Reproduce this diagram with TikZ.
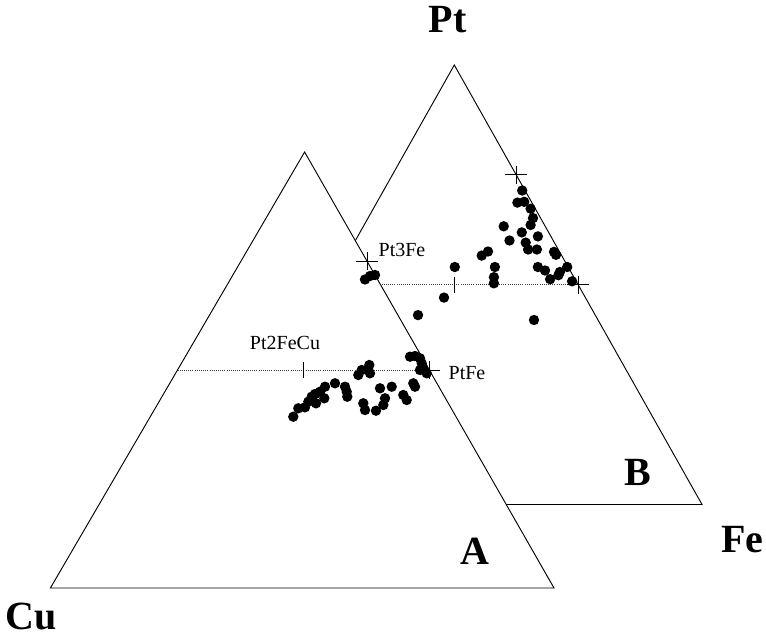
\documentclass[tikz,border=0pt]{standalone}
\usepackage{fontspec}
\setmainfont{Liberation Serif}
\usetikzlibrary{calc}
\begin{document}
\begin{tikzpicture}[x=0.75pt,y=-0.75pt,
  edge/.style={line width=0.7pt, line join=miter, fill=white},
  tie/.style={line width=0.6pt, densely dotted, black!75},
  tickline/.style={line width=0.6pt},
  corner/.style={font=\bfseries\fontsize{30}{30}\selectfont, inner sep=0pt},
  phase/.style={font=\fontsize{15}{15}\selectfont, inner sep=0pt},
  cross/.pic={\draw[tickline] (-11,0) -- (11,0) (0,-9) -- (0,9);},
  vtick/.pic={\draw[tickline] (0,-8) -- (0,8);}]
\useasboundingbox (0,0) rectangle (766,638);

% ---------- triangle B (behind) ----------
\coordinate (Bt) at (454.3,65);
\coordinate (Br) at (702,504.5);
\coordinate (Bl) at (206.6,504.5);
\draw[edge] (Bt) -- (Br) -- (Bl) -- cycle;
\coordinate (BmL) at ($(Bt)!0.5!(Bl)$);
\coordinate (BmR) at ($(Bt)!0.5!(Br)$);
\coordinate (B3) at ($(Br)!0.75!(Bt)$);
\coordinate (B2) at ($(BmL)!0.5!(BmR)$);
\draw[tie] (BmL) -- (BmR);
\pic at (B3) {cross};
\pic at (BmR) {cross};
\pic at (B2) {vtick};
\foreach \p in {(522.2,190.5),(517.4,202.6),(524.2,201.8),(530.6,208.7),(533,218.1),
  (503.7,226.3),(530.6,225),(521.8,232.4),(537.9,236.4),(509.5,240.5),(525.7,242.6),
  (528.1,249.5),(536.9,249.5),(554,251.9),(556,254.8),(481.7,255.6),(488,251.5),
  (454.8,267),(494.9,267),(537.9,267),(545,270.5),(559.9,272),(567.2,267),
  (558.4,275.2),(550.1,279.2),(572.1,281.3),(493.9,277.2),(493.9,283.3),
  (444,297.6),(418,315.1),(534,320)}
  \fill \p circle (5.2);

% ---------- triangle A (front) ----------
\coordinate (At) at (304.6,152);
\coordinate (Ar) at (554,588);
\coordinate (Al) at (50.4,588);
\draw[edge] (At) -- (Ar) -- (Al) -- cycle;
\coordinate (AmL) at ($(At)!0.5!(Al)$);
\coordinate (AmR) at ($(At)!0.5!(Ar)$);
\coordinate (A3) at ($(Ar)!0.75!(At)$);
\coordinate (A2) at ($(AmL)!0.5!(AmR)$);
\draw[tie] (AmL) -- (AmR);
\pic at (A3) {cross};
\pic at (AmR) {cross};
\pic at (A2) {vtick};
\foreach \p in {(365,279.5),(370,276),(375,275),
  (293.3,416.7),(298.3,408.3),(305,407.3),(308.3,401.7),(311.7,396.7),(316,403.3),
  (315,394),(320,391.7),(324.3,398.3),(325,386.7),(335,383.3),(345,386.7),
  (346.7,391.7),(347.3,396.7),(358.3,375),(361.7,370),(369.3,365),(370,373.3),
  (363.3,403.3),(365,410),(376,410.7),(383.3,405),(385,398.3),(380,388.3),
  (391.7,386.7),(403.3,395),(406.7,400),(413.3,383.3),(415,386.7),(410,356.7),
  (415,356),(420,358.3),(421.7,363.3),(423.3,368.3),(426.7,373.3),(420,370)}
  \fill \p circle (5.2);

% ---------- labels ----------
\node[corner] (lPt) at (447.5,20) {Pt};
\node[corner] (lFe) at (742.5,540) {Fe};
\node[corner] (lCu) at (31.5,616.5) {Cu};
\node[corner] (lA) at (475,551.5) {A};
\node[corner] (lB) at (638,472) {B};
\node[phase] (lPt3Fe) at (402,249.5) {Pt3Fe};
\node[phase] (lPt2FeCu) at (285,342.5) {Pt2FeCu};
\node[phase] (lPtFe) at (467,373) {PtFe};
\end{tikzpicture}
\end{document}
